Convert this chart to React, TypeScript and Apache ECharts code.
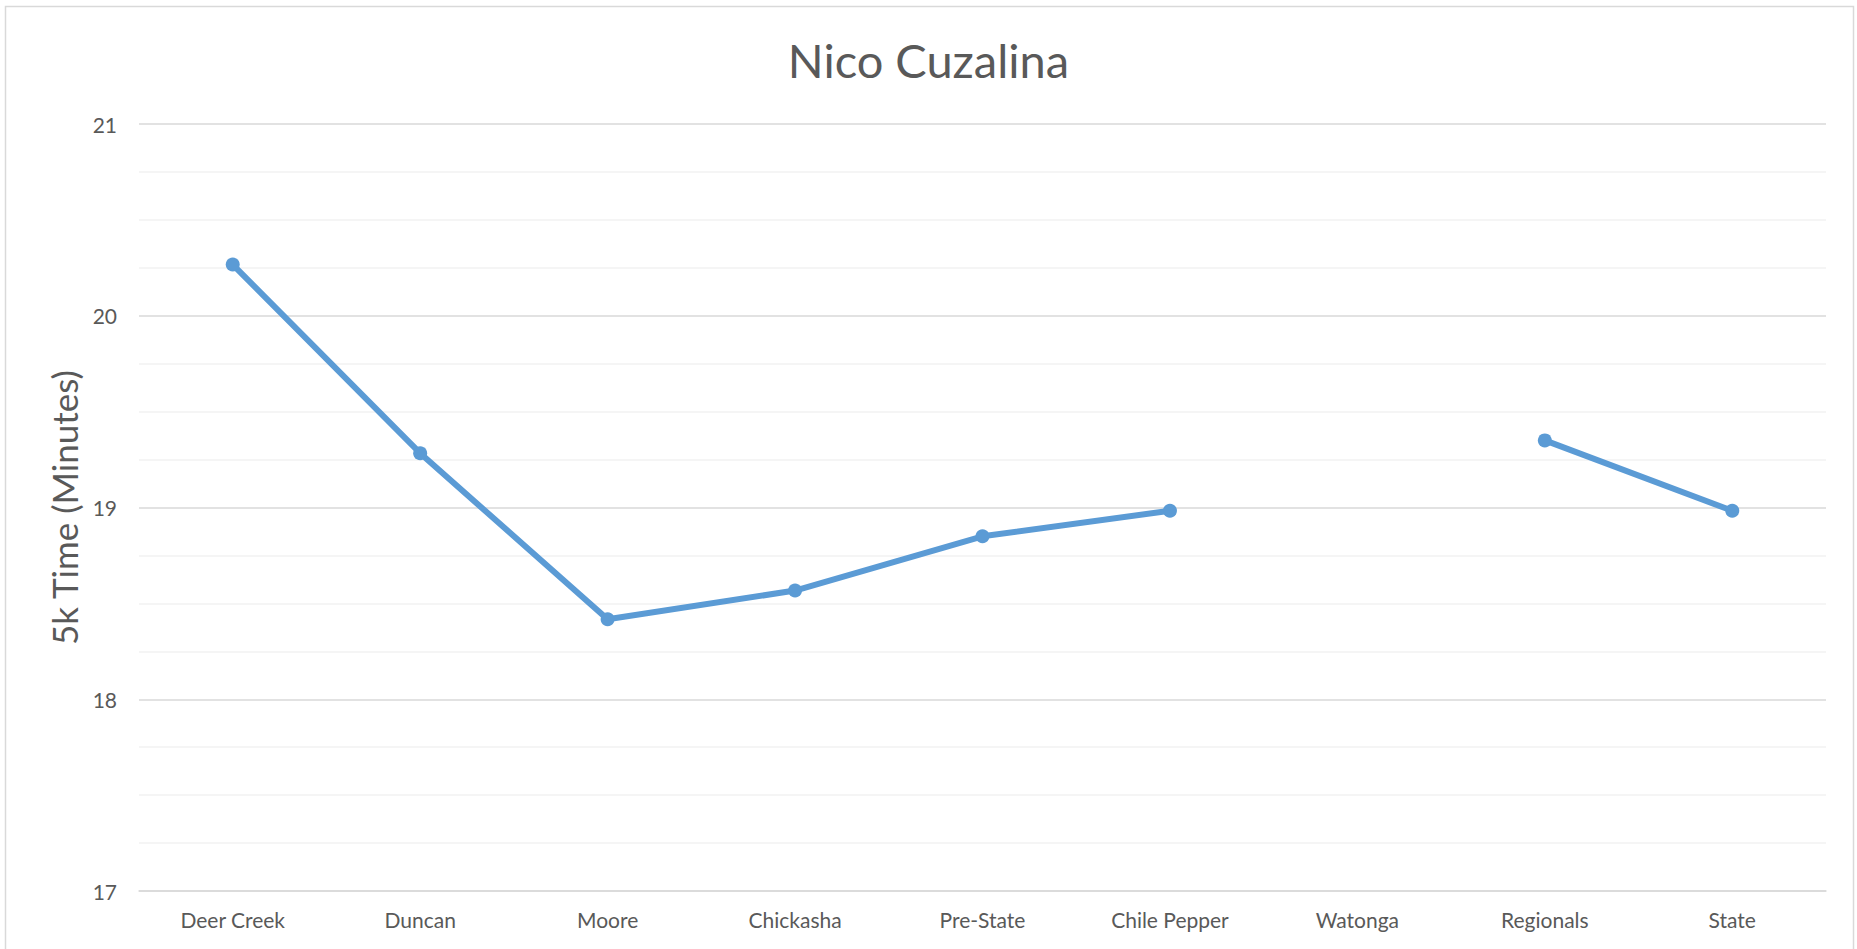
import React, { useEffect, useRef } from "react";
import * as echarts from "echarts";

const categories = ["Deer Creek", "Duncan", "Moore", "Chickasha", "Pre-State", "Chile Pepper", "Watonga", "Regionals", "State"];
// 5k times in minutes (mm:ss converted), Watonga missing
const times: (number | null)[] = [20.267, 19.283, 18.417, 18.567, 18.85, 18.983, null, 19.35, 18.983];
const yMin = 17;
const yMax = 21;
const yInterval = 1;

export default function App() {
  const ref = useRef<HTMLDivElement>(null);
  useEffect(() => {
    if (!ref.current) return;
    const chart = echarts.init(ref.current, undefined, { renderer: "svg" });
    const font = "Lato, 'Open Sans', sans-serif";
    chart.setOption({
      animation: false,
      backgroundColor: "#ffffff",
      title: {
        text: "Nico Cuzalina",
        left: "center",
        top: 31,
        textStyle: { fontFamily: font, fontSize: 47, fontWeight: "normal", color: "#595959" },
      },
      graphic: [
        {
          type: "rect",
          shape: { x: 5.5, y: 6.5, width: 1848, height: 1100 },
          style: { fill: "none", stroke: "#d9d9d9", lineWidth: 1.5 },
          silent: true,
        },
      ],
      grid: { left: 139, right: 31, top: 124, bottom: 58, containLabel: false },
      xAxis: {
        type: "category",
        data: categories,
        boundaryGap: true,
        axisLine: { show: true, lineStyle: { color: "#d9d9d9", width: 1.5 } },
        axisTick: { show: false },
        axisLabel: { fontFamily: font, fontSize: 21, color: "#595959", margin: 18 },
        splitLine: { show: false },
      },
      yAxis: {
        type: "value",
        min: yMin,
        max: yMax,
        interval: yInterval,
        name: "5k Time (Minutes)",
        nameLocation: "middle",
        nameGap: 57,
        nameTextStyle: { fontFamily: font, fontSize: 35, color: "#595959" },
        axisLine: { show: false },
        axisTick: { show: false },
        axisLabel: { fontFamily: font, fontSize: 21, color: "#595959", margin: 22 },
        splitLine: { show: true, lineStyle: { color: "#d9d9d9", width: 1.5 } },
        minorTick: { show: false, splitNumber: 4 },
        minorSplitLine: { show: true, lineStyle: { color: "#f2f2f2", width: 1.5 } },
      },
      series: [
        {
          type: "line",
          data: times,
          connectNulls: false,
          symbol: "circle",
          symbolSize: 14,
          lineStyle: { color: "#5B9BD5", width: 6 },
          itemStyle: { color: "#5B9BD5" },
        },
      ],
    });
    return () => chart.dispose();
  }, []);
  return <div ref={ref} style={{ position: "fixed", left: 0, top: 0, width: 1857, height: 949 }} />;
}
